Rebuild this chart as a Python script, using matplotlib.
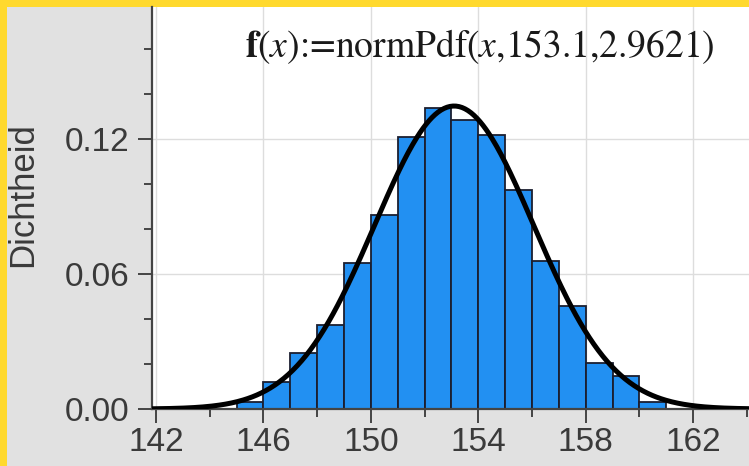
import numpy as np
import matplotlib
matplotlib.use('Agg')
import matplotlib.pyplot as plt
from matplotlib.patches import Rectangle
from matplotlib.ticker import MultipleLocator

# histogram bins (left edges, width 1) and densities
bin_left = [145, 146, 147, 148, 149, 150, 151, 152, 153, 154, 155, 156, 157, 158, 159, 160]
density = [0.0032, 0.0121, 0.025, 0.0373, 0.065, 0.0862, 0.1207, 0.1336,
           0.1284, 0.1218, 0.0973, 0.0658, 0.0459, 0.0203, 0.0147, 0.0033]

# normal curve parameters, as in the label
mu = 153.1
sigma = 2.9621

x_major = [142, 146, 150, 154, 158, 162]
y_major = [0.00, 0.06, 0.12]
y_labels = ['0.00', '0.06', '0.12']

W, H = 749, 466
plt.rcParams['font.family'] = ['Liberation Sans', 'DejaVu Sans']
plt.rcParams['mathtext.fontset'] = 'stix'

fig = plt.figure(figsize=(W / 100, H / 100), dpi=100, facecolor='#FFD92E')
fig.patches.append(Rectangle((7 / W, 0), 1, (H - 7) / H, transform=fig.transFigure,
                             facecolor='#E1E1E1', edgecolor='none', zorder=-10))

ax = fig.add_axes([152 / W, (H - 409) / H, (W - 152) / W, (409 - 7) / H])
ax.set_zorder(1)
ax.set_facecolor('white')

ax.bar(bin_left, density, width=1, align='edge', color='#2290F2',
       edgecolor='#1B1F30', linewidth=1.3, zorder=2)

xs = np.linspace(141.85, 164.1, 400)
pdf = np.exp(-0.5 * ((xs - mu) / sigma) ** 2) / (sigma * np.sqrt(2 * np.pi))
ax.plot(xs, pdf, color='black', linewidth=3.6, zorder=3, solid_capstyle='butt')

ax.set_xlim(141.85, 164.08)
ax.set_ylim(0, 0.1787)
ax.set_xticks(x_major)
ax.xaxis.set_minor_locator(MultipleLocator(2))
ax.set_yticks(y_major)
ax.set_yticklabels(y_labels)
ax.yaxis.set_minor_locator(MultipleLocator(0.02))

ax.grid(True, which='major', color='#DDDDDD', linewidth=1, zorder=0)
ax.set_axisbelow(True)

for side in ['top', 'right']:
    ax.spines[side].set_visible(False)
for side in ['left', 'bottom']:
    ax.spines[side].set_color('#444444')
    ax.spines[side].set_linewidth(1.6)

ax.tick_params(which='major', length=10, width=1.4, color='#444444',
               labelsize=24, labelcolor='#3A3A3A')
ax.tick_params(which='minor', length=6, width=1.4, color='#444444')
ax.tick_params(axis='y', which='major', pad=6)
ax.tick_params(axis='x', which='major', pad=3)

ax.set_ylabel('Dichtheid', fontsize=25, color='#3A3A3A', va='center')
ax.yaxis.set_label_coords(-(152 - 23) / (W - 152), (409 - 195) / (409 - 7))

fig.text(480 / W, (H - 47) / H,
         r'$\mathbf{f}(x)$:=normPdf($x$,153.1,2.9621)',
         fontsize=27, family='STIXGeneral', color='#1A1A1A', ha='center', va='center')

fig.savefig('out.png', dpi=100, facecolor=fig.get_facecolor())
